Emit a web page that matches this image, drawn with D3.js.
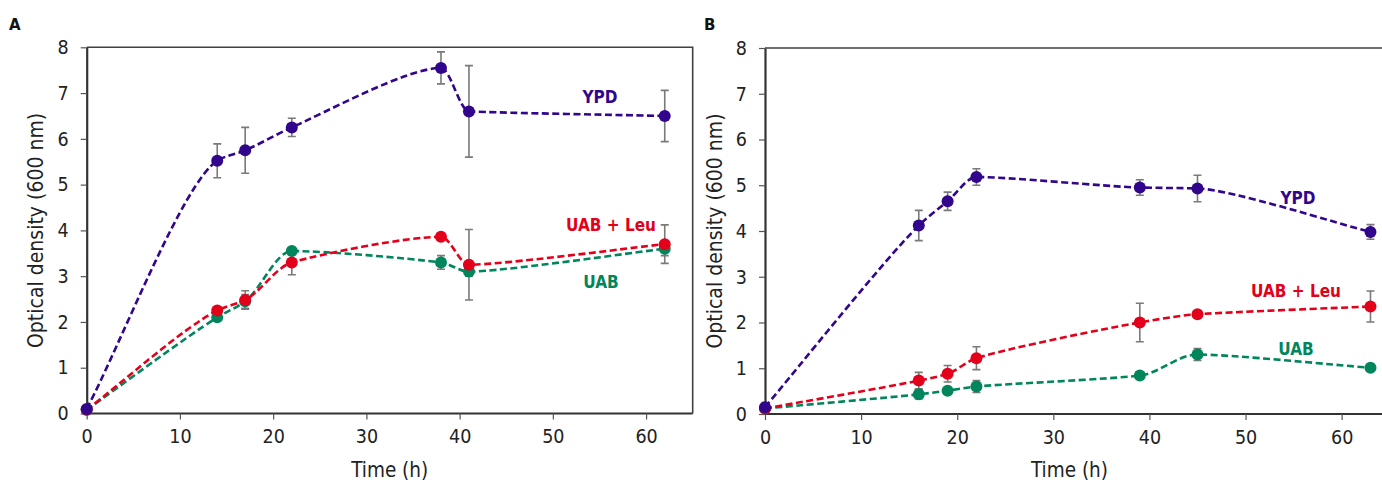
<!DOCTYPE html>
<html>
<head>
<meta charset="utf-8">
<script src="https://cdn.jsdelivr.net/npm/d3@7"></script>
<style>
  html, body { margin: 0; padding: 0; background: #fff; }
  svg { display: block; }
  text { font-family: "DejaVu Sans Condensed", "DejaVu Sans", sans-serif; }
</style>
</head>
<body>
<svg id="chart" width="1382" height="484"></svg>
<script>
// ---------- Data ----------
const seriesNames = ["UAB", "UAB + Leu", "YPD"];
const xTicks = [0, 10, 20, 30, 40, 50, 60];
const yTicks = [0, 1, 2, 3, 4, 5, 6, 7, 8];

// Panel A
const timeA = [0, 14, 17, 22, 38, 41, 62];
const ypdA = [0.10, 5.52, 5.75, 6.25, 7.55, 6.60, 6.50];
const ypdErrA = [0, 0.37, 0.50, 0.20, 0.35, 1.00, 0.56];
const leuA = [0.08, 2.25, 2.48, 3.30, 3.86, 3.25, 3.70];
const leuErrA = [0, 0.05, 0.20, 0.27, 0.05, 0.77, 0.42];
const uabA = [0.08, 2.10, 2.45, 3.55, 3.30, 3.10, 3.60];
const uabErrA = [0, 0.05, 0.15, 0.05, 0.15, 0.10, 0.15];

// Panel B
const timeB = [0, 16, 19, 22, 39, 45, 63];
const ypdB = [0.15, 4.12, 4.65, 5.18, 4.95, 4.93, 3.98];
const ypdErrB = [0, 0.33, 0.20, 0.18, 0.17, 0.29, 0.16];
const leuB = [0.12, 0.73, 0.88, 1.22, 2.00, 2.18, 2.35];
const leuErrB = [0, 0.18, 0.18, 0.25, 0.42, 0.05, 0.34];
const uabB = [0.12, 0.43, 0.51, 0.60, 0.84, 1.30, 1.01];
const uabErrB = [0, 0.10, 0.05, 0.13, 0.03, 0.13, 0.03];

const colors = { "UAB": "#00855c", "UAB + Leu": "#e2001a", "YPD": "#31068c" };

// ---------- Smoothed curve: bends near the knots, straight long stretches ----------
function KnotSmooth(context) { this._context = context; }
KnotSmooth.prototype = {
  areaStart() {}, areaEnd() {},
  lineStart() { this._pts = []; },
  point(x, y) { this._pts.push([+x, +y]); },
  lineEnd() {
    const p = this._pts, n = p.length, c = this._context, cap = 34;
    if (!n) return;
    const s = [];
    for (let i = 0; i < n - 1; i++) s[i] = (p[i + 1][1] - p[i][1]) / (p[i + 1][0] - p[i][0]);
    const m = [];
    for (let i = 0; i < n; i++) {
      if (i === 0) m[i] = s[0];
      else if (i === n - 1) m[i] = s[n - 2];
      else {
        const a = s[i - 1], b = s[i];
        m[i] = (a * b <= 0) ? 0 : 2 * a * b / (a + b);
      }
    }
    c.moveTo(p[0][0], p[0][1]);
    for (let i = 0; i < n - 1; i++) {
      const h = p[i + 1][0] - p[i][0];
      const o = Math.min(h / 3, cap);
      c.bezierCurveTo(p[i][0] + o, p[i][1] + m[i] * o,
                      p[i + 1][0] - o, p[i + 1][1] - m[i + 1] * o,
                      p[i + 1][0], p[i + 1][1]);
    }
  }
};
const knotSmooth = ctx => new KnotSmooth(ctx);

// ---------- Drawing ----------
const svg = d3.select("#chart");

function drawPanel(cfg) {
  const x = d3.scaleLinear().domain([0, 65]).range([cfg.left, cfg.right]);
  const y = d3.scaleLinear().domain([0, 8]).range([cfg.bottom, cfg.top]);
  const g = svg.append("g");

  g.append("path")
    .attr("d", `M${cfg.left},${cfg.top}H${cfg.right}V${cfg.bottom}`)
    .attr("fill", "none").attr("stroke", "#404040").attr("stroke-width", 1.6);

  const xAxis = d3.axisBottom(x).tickValues(xTicks).tickSize(6).tickPadding(10).tickSizeOuter(0);
  const yAxis = d3.axisLeft(y).tickValues(yTicks).tickSize(6).tickPadding(12).tickSizeOuter(0);
  const gx = g.append("g").attr("transform", `translate(0,${cfg.bottom})`).call(xAxis);
  const gy = g.append("g").attr("transform", `translate(${cfg.left},0)`).call(yAxis);
  [gx, gy].forEach(a => {
    a.select(".domain").attr("stroke", "#333").attr("stroke-width", 2.2);
    a.selectAll(".tick line").attr("stroke", "#555").attr("stroke-width", 1.2);
    a.selectAll(".tick text").attr("font-size", 19.5).attr("fill", "#222")
      .style("font-family", '"DejaVu Sans Condensed", sans-serif');
  });
  gx.select(".domain").attr("d", `M${cfg.left},0H${cfg.right}`);

  g.append("text")
    .attr("x", (cfg.left + Math.min(cfg.right, 1382)) / 2 - (cfg.titleShift || 0))
    .attr("y", 477).attr("text-anchor", "middle")
    .attr("font-size", 20.5).attr("fill", "#222").text("Time (h)");
  g.append("text")
    .attr("transform", `translate(${cfg.yTitleX},${(cfg.top + cfg.bottom) / 2}) rotate(-90)`)
    .attr("text-anchor", "middle").attr("font-size", 21).attr("fill", "#222")
    .text("Optical density (600 nm)");

  g.append("text").attr("x", cfg.letterX).attr("y", 30)
    .attr("font-size", 15).attr("font-weight", "bold")
    .style("font-family", '"DejaVu Sans", sans-serif')
    .attr("fill", "#111").text(cfg.letter);

  const line = d3.line().x(d => x(d.t)).y(d => y(d.v)).curve(knotSmooth);

  cfg.series.forEach(s => {
    const pts = cfg.time.map((t, i) => ({ t, v: s.values[i], e: s.errors[i] }));
    g.append("path").datum(pts).attr("d", line)
      .attr("fill", "none").attr("stroke", colors[s.name])
      .attr("stroke-width", 2.6).attr("stroke-dasharray", "7,3.5");
  });

  cfg.series.forEach(s => {
    const pts = cfg.time.map((t, i) => ({ t, v: s.values[i], e: s.errors[i] }))
      .filter(d => d.e > 0);
    const eb = g.append("g").attr("stroke", "#7a7a7a").attr("stroke-width", 1.6).attr("fill", "none");
    eb.selectAll("path").data(pts).join("path")
      .attr("d", d => {
        const cx = x(d.t), y1 = y(d.v + d.e), y0 = y(d.v - d.e);
        return `M${cx},${y0}V${y1}M${cx - 4},${y1}H${cx + 4}M${cx - 4},${y0}H${cx + 4}`;
      });
  });

  cfg.series.forEach(s => {
    const pts = cfg.time.map((t, i) => ({ t, v: s.values[i] }));
    g.append("g").selectAll("circle").data(pts).join("circle")
      .attr("cx", d => x(d.t)).attr("cy", d => y(d.v)).attr("r", 6)
      .attr("fill", colors[s.name]);
  });

  cfg.labels.forEach(l => {
    g.append("text").attr("x", l.x).attr("y", l.y).attr("text-anchor", "middle")
      .attr("font-size", 17).attr("font-weight", "bold")
      .attr("fill", colors[l.name]).text(l.name);
  });
}

drawPanel({
  letter: "A", letterX: 9,
  left: 86.7, right: 692.7, top: 47.3, bottom: 413.5, yTitleX: 43,
  time: timeA,
  series: [
    { name: "UAB", values: uabA, errors: uabErrA },
    { name: "UAB + Leu", values: leuA, errors: leuErrA },
    { name: "YPD", values: ypdA, errors: ypdErrA }
  ],
  labels: [
    { name: "YPD", x: 600, y: 103 },
    { name: "UAB + Leu", x: 611, y: 231 },
    { name: "UAB", x: 601, y: 288 }
  ]
});

drawPanel({
  letter: "B", letterX: 704,
  left: 765, right: 1389.7, top: 48, bottom: 414, yTitleX: 722, titleShift: 4,
  time: timeB,
  series: [
    { name: "UAB", values: uabB, errors: uabErrB },
    { name: "UAB + Leu", values: leuB, errors: leuErrB },
    { name: "YPD", values: ypdB, errors: ypdErrB }
  ],
  labels: [
    { name: "YPD", x: 1298, y: 204 },
    { name: "UAB + Leu", x: 1296, y: 297 },
    { name: "UAB", x: 1296, y: 355 }
  ]
});
</script>
</body>
</html>
